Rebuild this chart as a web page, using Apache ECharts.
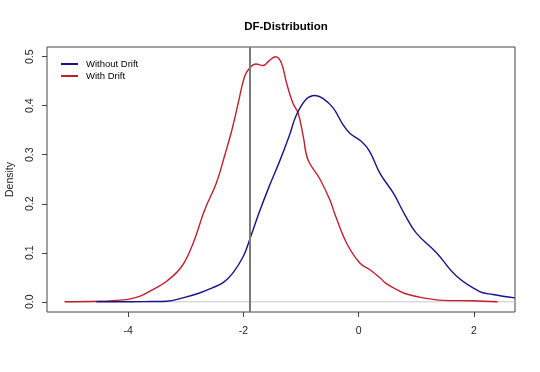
<!DOCTYPE html>
<html>
<head>
<meta charset="utf-8">
<script src="https://cdn.jsdelivr.net/npm/echarts@6/dist/echarts.min.js"></script>
<style>html,body{margin:0;padding:0;background:#fff}#c{width:540px;height:372px}</style>
</head>
<body>
<div id="c"></div>
<script>
var titleText = 'DF-Distribution';
var seriesNames = ['Without Drift', 'With Drift'];
var xTicks = [-4, -2, 0, 2];
var yTicks = [0, 0.1, 0.2, 0.3, 0.4, 0.5];
var vLineX = -1.89;

var withoutX = [-4.55, -4.0, -3.6, -3.33, -3.05, -2.76, -2.53, -2.35, -2.18, -2.0, -1.89, -1.72, -1.55, -1.37, -1.2, -1.08, -0.91, -0.76, -0.62, -0.44, -0.27, -0.154, 0.05, 0.19, 0.37, 0.60, 0.80, 1.0, 1.35, 1.70, 2.10, 2.33, 2.71];
var withoutY = [0.0, 0.0, 0.0005, 0.001, 0.008, 0.018, 0.029, 0.039, 0.059, 0.093, 0.127, 0.184, 0.236, 0.287, 0.34, 0.381, 0.413, 0.421, 0.415, 0.395, 0.361, 0.344, 0.327, 0.307, 0.262, 0.222, 0.178, 0.14, 0.10, 0.052, 0.021, 0.015, 0.008];

var withX = [-5.1, -4.5, -4.2, -4.0, -3.8, -3.57, -3.33, -3.07, -2.87, -2.67, -2.47, -2.32, -2.2, -2.09, -1.98, -1.89, -1.78, -1.66, -1.54, -1.44, -1.34, -1.25, -1.14, -1.05, -0.96, -0.88, -0.675, -0.5, -0.41, -0.21, 0.02, 0.19, 0.37, 0.48, 0.71, 0.83, 1.12, 1.46, 1.98, 2.41];
var withY = [0.0, 0.001, 0.003, 0.005, 0.011, 0.025, 0.042, 0.072, 0.12, 0.188, 0.242, 0.30, 0.35, 0.405, 0.459, 0.477, 0.485, 0.482, 0.493, 0.500, 0.487, 0.446, 0.405, 0.385, 0.337, 0.29, 0.251, 0.208, 0.178, 0.12, 0.079, 0.066, 0.049, 0.037, 0.022, 0.016, 0.008, 0.003, 0.002, 0.0];

var baseX = [-5.1, 2.712];
var baseY = [0, 0];

function pairs(xs, ys){ return xs.map(function(x,i){ return [x, ys[i]]; }); }

var font = 'Liberation Sans, Arial, sans-serif';
var chart = echarts.init(document.getElementById('c'));
chart.setOption({
  animation: false,
  backgroundColor: '#fff',
  title: {
    text: titleText, left: 281, top: 16, textAlign: 'center',
    textStyle: { fontFamily: font, fontSize: 11.5, fontWeight: 'bold', color: '#000' }
  },
  legend: {
    orient: 'vertical', left: 56, top: 53, itemGap: 0,
    itemWidth: 17, itemHeight: 2, icon: 'rect',
    data: seriesNames,
    textStyle: { fontFamily: font, fontSize: 9.5, color: '#000', lineHeight: 12, padding: [0,0,0,3] }
  },
  grid: {
    left: 47, right: 25, top: 47, bottom: 60, containLabel: false, outerBoundsMode: 'none',
    show: true, borderColor: '#444', borderWidth: 1, backgroundColor: 'transparent'
  },
  xAxis: {
    type: 'value', min: -5.406, max: 2.712,
    axisLine: { show: false, onZero: false },
    splitLine: { show: false },
    axisTick: { show: true, length: 5, inside: false, customValues: xTicks, lineStyle: { color: '#444' } },
    axisLabel: { customValues: xTicks, margin: 14, fontFamily: font, fontSize: 10.5, color: '#222',
      formatter: function(v){ return String(v); } }
  },
  yAxis: {
    type: 'value', min: -0.0208, max: 0.5198,
    name: 'Density', nameLocation: 'middle', nameGap: 31, nameRotate: 90,
    nameTextStyle: { fontFamily: font, fontSize: 10.5, color: '#222' },
    axisLine: { show: false, onZero: false },
    splitLine: { show: false },
    axisTick: { show: true, length: 5, customValues: yTicks, lineStyle: { color: '#444' } },
    axisLabel: { customValues: yTicks, rotate: 90, margin: 11, fontFamily: font, fontSize: 10.5, color: '#222',
      formatter: function(v){ return v.toFixed(1); } }
  },
  series: [
    {
      name: 'base', type: 'line', data: pairs(baseX, baseY), symbol: 'none', silent: true,
      lineStyle: { color: '#c8c8c8', width: 1 }, z: 1,
      markLine: {
        symbol: 'none', silent: true, label: { show: false },
        lineStyle: { color: '#7a7a7a', width: 2, type: 'solid' },
        data: [{ xAxis: vLineX }]
      }
    },
    {
      name: seriesNames[1], type: 'line', data: pairs(withX, withY), symbol: 'none', smooth: 0.4,
      lineStyle: { color: '#C0202E', width: 1.4 }, itemStyle: { color: '#C0202E' }, z: 3
    },
    {
      name: seriesNames[0], type: 'line', data: pairs(withoutX, withoutY), symbol: 'none', smooth: 0.4,
      lineStyle: { color: '#14148C', width: 1.4 }, itemStyle: { color: '#14148C' }, z: 3
    }
  ]
});
</script>
</body>
</html>
